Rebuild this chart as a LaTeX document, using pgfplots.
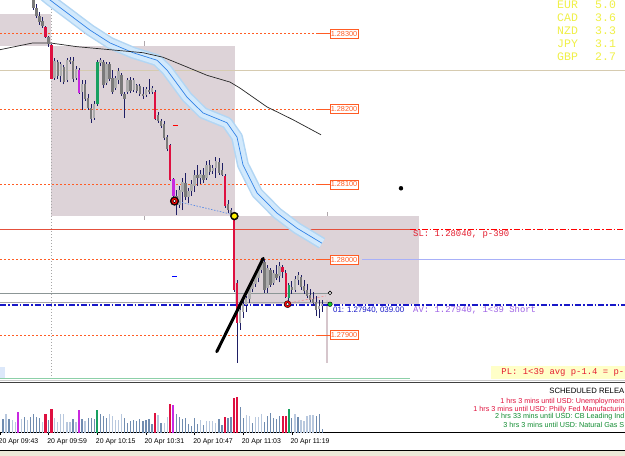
\documentclass[border=0pt]{standalone}
\usepackage{fontspec}
\setmainfont{Liberation Sans}
\newfontfamily\monofont{Liberation Mono}
\usepackage{pgfplots}
\usepackage{pgfplotstable}
\pgfplotsset{compat=1.18}

\definecolor{boxc}{RGB}{221,211,216}
\definecolor{lvl}{RGB}{255,92,36}
\colorlet{cbu}{black!32}
\colorlet{cbe}{black!52}
\definecolor{crd}{RGB}{222,16,64}
\definecolor{cmg}{RGB}{200,40,224}
\definecolor{cgr}{RGB}{24,160,96}
\definecolor{wickc}{RGB}{30,30,100}
\definecolor{bandout}{RGB}{178,214,244}
\definecolor{bandin}{RGB}{210,233,252}
\definecolor{macen}{RGB}{50,130,230}
\definecolor{tanc}{RGB}{214,203,176}
\definecolor{slc}{RGB}{228,30,48}
\definecolor{slline}{RGB}{228,80,60}
\definecolor{ordc}{RGB}{24,24,200}
\definecolor{avc}{RGB}{160,100,230}
\definecolor{yelc}{RGB}{240,240,70}
\definecolor{voldark}{RGB}{112,140,176}
\definecolor{vollight}{RGB}{184,200,222}
\definecolor{beige}{RGB}{236,233,216}
\definecolor{grayln}{RGB}{140,150,150}
\definecolor{lblue}{RGB}{168,176,248}
\definecolor{conn}{RGB}{90,140,230}
\definecolor{salm}{RGB}{240,150,150}
\definecolor{sepc}{RGB}{176,168,172}
\definecolor{pinkv}{RGB}{214,198,204}
\definecolor{greenln}{RGB}{140,208,168}
\definecolor{greendot}{RGB}{20,200,40}
\definecolor{plbox}{RGB}{255,255,200}
\definecolor{newsred}{RGB}{224,16,60}
\definecolor{newsgreen}{RGB}{16,140,48}
\definecolor{tinyblue}{RGB}{220,232,250}

\pgfplotstableread{
m o h l c k
11 1.28356 1.28358 1.28332 1.28334 be
12 1.28334 1.28340 1.28321 1.28324 be
13 1.28324 1.28329 1.28312 1.28316 be
14 1.28317 1.28322 1.28308 1.28310 be
15 1.28309 1.28310 1.28295 1.28296 rd
16 1.28296 1.28297 1.28283 1.28287 be
17 1.28285 1.28287 1.28240 1.28240 rd
18 1.28241 1.28268 1.28239 1.28264 bu
19 1.28263 1.28265 1.28240 1.28244 be
20 1.28244 1.28263 1.28236 1.28260 bu
21 1.28256 1.28259 1.28233 1.28236 be
22 1.28239 1.28268 1.28236 1.28265 bu
23 1.28265 1.28269 1.28260 1.28263 be
24 1.28264 1.28269 1.28236 1.28240 be
25 1.28241 1.28257 1.28239 1.28253 bu
26 1.28252 1.28255 1.28220 1.28221 mg
27 1.28223 1.28239 1.28199 1.28233 bu
28 1.28233 1.28239 1.28211 1.28214 be
29 1.28215 1.28220 1.28199 1.28202 be
30 1.28202 1.28207 1.28182 1.28187 be
31 1.28188 1.28211 1.28186 1.28207 bu
32 1.28207 1.28265 1.28204 1.28263 gr
33 1.28261 1.28268 1.28257 1.28265 bu
34 1.28263 1.28265 1.28228 1.28232 be
35 1.28235 1.28263 1.28232 1.28260 bu
36 1.28260 1.28263 1.28237 1.28240 be
37 1.28241 1.28252 1.28220 1.28223 be
38 1.28228 1.28244 1.28225 1.28241 bu
39 1.28239 1.28255 1.28233 1.28251 bu
40 1.28245 1.28248 1.28218 1.28220 be
41 1.28220 1.28223 1.28188 1.28214 be
42 1.28223 1.28241 1.28220 1.28239 bu
43 1.28239 1.28243 1.28221 1.28224 be
44 1.28225 1.28241 1.28223 1.28239 bu
45 1.28232 1.28233 1.28221 1.28224 be
46 1.28231 1.28233 1.28218 1.28220 be
47 1.28220 1.28229 1.28214 1.28218 be
48 1.28219 1.28229 1.28216 1.28227 bu
49 1.28225 1.28240 1.28220 1.28223 be
50 1.28223 1.28231 1.28220 1.28228 bu
51 1.28223 1.28225 1.28186 1.28187 rd
52 1.28192 1.28196 1.28182 1.28184 be
53 1.28184 1.28187 1.28175 1.28178 be
54 1.28180 1.28184 1.28159 1.28162 be
55 1.28163 1.28166 1.28144 1.28147 be
56 1.28152 1.28154 1.28105 1.28106 rd
57 1.28107 1.28109 1.28083 1.28085 mg
58 1.28085 1.28093 1.28059 1.28073 be
59 1.28073 1.28098 1.28069 1.28093 bu
60 1.28090 1.28109 1.28066 1.28103 bu
61 1.28102 1.28115 1.28079 1.28083 be
62 1.28083 1.28095 1.28075 1.28091 bu
63 1.28091 1.28106 1.28085 1.28101 bu
64 1.28098 1.28119 1.28090 1.28113 bu
65 1.28113 1.28126 1.28098 1.28109 be
66 1.28109 1.28119 1.28101 1.28114 bu
67 1.28113 1.28122 1.28102 1.28106 be
68 1.28109 1.28131 1.28106 1.28126 bu
69 1.28126 1.28133 1.28113 1.28117 be
70 1.28118 1.28126 1.28114 1.28122 bu
71 1.28122 1.28137 1.28109 1.28131 bu
72 1.28130 1.28135 1.28113 1.28115 be
73 1.28119 1.28129 1.28111 1.28113 be
74 1.28111 1.28114 1.28069 1.28071 rd
75 1.28074 1.28079 1.28062 1.28066 be
76 1.28066 1.28069 1.28055 1.28059 be
77 1.28058 1.28059 1.27957 1.27960 rd
78 1.27969 1.27973 1.27863 1.27916 rd
79 1.27916 1.27940 1.27907 1.27933 bu
80 1.27931 1.27947 1.27923 1.27941 bu
81 1.27940 1.27952 1.27931 1.27949 bu
82 1.27948 1.27967 1.27943 1.27963 bu
83 1.27961 1.27973 1.27957 1.27969 bu
84 1.27968 1.27984 1.27964 1.27980 bu
85 1.27976 1.27993 1.27970 1.27989 bu
86 1.27986 1.28002 1.27982 1.27998 bu
87 1.27997 1.28001 1.27956 1.27960 be
88 1.27963 1.27993 1.27956 1.27989 bu
89 1.27986 1.27989 1.27964 1.27967 be
90 1.27969 1.27986 1.27967 1.27982 bu
91 1.27981 1.27993 1.27973 1.27976 be
92 1.27978 1.27997 1.27970 1.27992 bu
93 1.27990 1.27993 1.27976 1.27984 rd
94 1.27982 1.27986 1.27949 1.27951 rd
95 1.27949 1.27969 1.27939 1.27967 gr
96 1.27964 1.27972 1.27955 1.27960 be
97 1.27960 1.27978 1.27957 1.27974 bu
98 1.27973 1.27984 1.27967 1.27980 bu
99 1.27977 1.27980 1.27960 1.27964 be
100 1.27965 1.27973 1.27955 1.27959 be
101 1.27960 1.27968 1.27949 1.27952 be
102 1.27953 1.27961 1.27944 1.27947 be
103 1.27948 1.27957 1.27939 1.27943 be
104 1.27944 1.27952 1.27925 1.27933 be
105 1.27935 1.27947 1.27923 1.27939 bu
106 1.27939 1.27947 1.27931 1.27941 bu
}\candles

\pgfplotstableread{
m p
0 1.28279
10.86 1.28288
16.45 1.28288
25.33 1.28283
36.18 1.28279
47.04 1.28275
53.62 1.28269
61.51 1.28256
68.09 1.28245
75.66 1.28236
78.95 1.28228
87.83 1.28203
96.38 1.28186
105.59 1.28166
}\maslow

\pgfplotstableread{
m p
13.16 1.28356
16.45 1.28345
22.04 1.28328
29.61 1.28305
36.18 1.28288
43.75 1.28275
51.64 1.28265
54.93 1.28252
61.51 1.28216
66.78 1.28195
74.67 1.28182
77.96 1.28163
79.93 1.28126
84.54 1.28089
91.12 1.28062
97.70 1.28042
105.92 1.28022
}\mafast

\pgfplotstableread{
m v k
1 13 0
2 18 1
3 13 0
4 12 1
5 10 1
6 20 3
7 13 1
8 15 0
9 12 1
10 15 0
11 18 0
12 15 0
13 14 0
14 10 1
15 18 2
16 12 0
17 23 2
18 14 1
19 10 1
20 18 1
21 18 1
22 10 1
23 10 1
24 13 0
25 10 1
26 22 3
27 13 0
28 11 1
29 14 0
30 14 0
31 13 0
32 22 4
33 18 0
34 16 0
35 14 0
36 18 1
37 16 1
38 12 1
39 12 1
40 18 1
41 14 0
42 9 0
43 11 0
44 12 0
45 11 0
46 13 0
47 11 0
48 12 0
49 13 0
50 8 0
51 19 2
52 17 1
53 9 0
54 9 1
55 15 1
56 28 2
57 27 3
58 18 0
59 15 0
60 13 0
61 14 0
62 8 0
63 6 0
64 14 0
65 8 0
66 12 1
67 7 0
68 11 1
69 11 1
70 11 1
71 9 1
72 13 0
73 7 0
74 15 2
75 14 0
76 15 0
77 34 2
78 35 2
79 25 0
80 14 0
81 17 1
82 16 1
83 9 0
84 15 1
85 15 1
86 18 1
87 10 0
88 16 0
89 19 0
90 14 0
91 13 0
92 16 0
93 16 2
94 16 2
95 23 4
96 14 0
97 18 1
98 15 0
99 12 1
100 11 1
101 16 1
102 17 1
103 17 1
104 16 0
105 18 0
106 4 0
}\vols

\newcommand\lvlline[2]{%
  \addplot[lvl, dash pattern=on 2pt off 2pt, line width=0.8pt] coordinates {(0,#1) (104.6,#1)};
  \addplot[lvl, line width=0.8pt] coordinates {(104.6,#1) (108.4,#1)};
  \node[anchor=west, draw=lvl, fill=white, text=lvl, line width=0.6pt,
        font=\fontsize{7.3}{7.3}\selectfont, inner xsep=1pt, inner ysep=1.6pt,
        text height=5.3pt, text depth=0.3pt] at (axis cs:108.4,#1) {#2};
}

\begin{document}%
\pgfplotstablegetrowsof{\candles}%
\pgfmathtruncatemacro{\ncand}{\pgfplotsretval-1}%
\begin{tikzpicture}
\path[use as bounding box] (0pt,0pt) rectangle (625pt,456pt);
\clip (0pt,0pt) rectangle (625pt,456pt);
\fill[white] (0pt,0pt) rectangle (625pt,456pt);

%================ price panel
\begin{axis}[at={(0pt,77pt)}, anchor=south west, scale only axis,
  width=625pt, height=379pt, xmin=0, xmax=205.592,
  ymin=1.278417, ymax=1.28345, hide axis, clip=true]
% shaded boxes
\addplot[fill=boxc, draw=none] coordinates {(0,1.28326) (16.78,1.28326) (16.78,1.28284) (0,1.28284)} --cycle;
\addplot[fill=boxc, draw=none] coordinates {(16.78,1.28284) (77.3,1.28284) (77.3,1.28058) (16.78,1.28058)} --cycle;
\addplot[fill=boxc, draw=none] coordinates {(77.3,1.28058) (137.83,1.28058) (137.83,1.27941) (77.3,1.27941)} --cycle;
% separators
\addplot[sepc, line width=0.8pt] coordinates {(47.37,1.28290) (47.37,1.28284)};
\addplot[sepc, line width=0.8pt] coordinates {(47.37,1.28058) (47.37,1.28053)};
\addplot[sepc, line width=0.8pt] coordinates {(107.57,1.28063) (107.57,1.28058)};
\addplot[pinkv, line width=1.6pt] coordinates {(107.57,1.27947) (107.57,1.27863)};
\addplot[black!35, dash pattern=on 1pt off 2pt, line width=0.6pt] coordinates {(16.78,1.278417) (16.78,1.28345)};
% horizontal lines
\addplot[tanc, line width=0.9pt] coordinates {(0,1.28251) (205.6,1.28251)};
\lvlline{1.28300}{1.28300}
\lvlline{1.28200}{1.28200}
\lvlline{1.28100}{1.28100}
\lvlline{1.28000}{1.28000}
\lvlline{1.27900}{1.27900}
\addplot[lblue, line width=0.8pt] coordinates {(119.1,1.28) (205.6,1.28)};
\addplot[slline, line width=1pt] coordinates {(0,1.28040) (134.87,1.28040)};
\addplot[red, line width=1pt, dash pattern=on 6pt off 2pt on 1.5pt off 2pt] coordinates {(134.87,1.28040) (205.6,1.28040)};
\addplot[grayln, line width=1.3pt] coordinates {(0,1.27955) (108.55,1.27955)};
\addplot[black!35, line width=0.6pt] coordinates {(0,1.27943) (108.55,1.27943)};
\addplot[ordc, line width=1.1pt, dash pattern=on 6pt off 2pt on 1.5pt off 2pt] coordinates {(0,1.27940) (205.6,1.27940)};
% moving averages
\addplot[bandout, line width=12pt, line join=round] table[x=m,y=p]{\mafast};
\addplot[bandin, line width=9pt, line join=round] table[x=m,y=p]{\mafast};
\addplot[macen, line width=0.7pt, line join=round] table[x=m,y=p]{\mafast};
\addplot[black!85, line width=0.7pt, line join=round] table[x=m,y=p]{\maslow};
% candles
\pgfplotsforeachungrouped \i in {0,...,\ncand}{%
  \pgfplotstablegetelem{\i}{m}\of\candles\let\cM\pgfplotsretval
  \pgfplotstablegetelem{\i}{o}\of\candles\let\cO\pgfplotsretval
  \pgfplotstablegetelem{\i}{h}\of\candles\let\cH\pgfplotsretval
  \pgfplotstablegetelem{\i}{l}\of\candles\let\cL\pgfplotsretval
  \pgfplotstablegetelem{\i}{c}\of\candles\let\cC\pgfplotsretval
  \pgfplotstablegetelem{\i}{k}\of\candles\let\cK\pgfplotsretval
  \edef\tmp{\noexpand\draw[wickc, line width=0.7pt] (axis cs:\cM,\cL) -- (axis cs:\cM,\cH);
    \noexpand\draw[c\cK, line width=2.5pt] (axis cs:\cM,\cO) -- (axis cs:\cM,\cC);}%
  \tmp
}
% small dashes
\addplot[blue, line width=1pt] coordinates {(56.6,1.27978) (58.2,1.27978)};
\addplot[red, line width=1.2pt] coordinates {(56.9,1.28178) (58.6,1.28178)};
% connectors
\addplot[conn, line width=0.7pt, dash pattern=on 1.5pt off 1.5pt] coordinates {(57.9,1.28078) (76.6,1.28060)};
\addplot[salm, line width=0.7pt, dash pattern=on 2pt off 2pt] coordinates {(95.4,1.27943) (107.2,1.27952)};
% trend line
\addplot[black, line width=3pt, line cap=round] coordinates {(71.3,1.27878) (86.6,1.28002)};
% markers
\addplot[only marks, mark=*, mark size=4.3pt, mark options={fill=black, draw=none}] coordinates {(57.4,1.28078)};
\addplot[only marks, mark=*, mark size=3.5pt, mark options={fill=red, draw=none}] coordinates {(57.4,1.28078) (94.6,1.27941)};
\addplot[only marks, mark=*, mark size=1.7pt, mark options={fill=white, draw=none}] coordinates {(57.4,1.28078) (94.6,1.27941)};
\addplot[only marks, mark=*, mark size=4pt, mark options={fill=black, draw=none}] coordinates {(77.1,1.28058)};
\addplot[only marks, mark=*, mark size=2.9pt, mark options={fill=yellow, draw=none}] coordinates {(77.1,1.28058)};
\addplot[only marks, mark=*, mark size=2pt, mark options={fill=black, draw=none}] coordinates {(131.9,1.28095)};
\addplot[only marks, mark=*, mark size=2.3pt, mark options={fill=greendot, draw=none}] coordinates {(108.55,1.27941)};
\addplot[only marks, mark=*, mark size=1.8pt, mark options={fill=white, draw=black, line width=0.6pt}] coordinates {(108.55,1.27956)};
% texts
\node[anchor=west, text=slc, font=\monofont\fontsize{8.9}{9}\selectfont, inner sep=0pt] at (axis cs:135.86,1.28033) {SL: 1.28040, p-390};
\node[anchor=west, text=ordc, font=\fontsize{7.9}{9}\selectfont, inner sep=0pt] at (axis cs:109.54,1.27933) {01: 1.27940, 039.00};
\node[anchor=west, text=avc, font=\monofont\fontsize{8.9}{9}\selectfont, inner sep=0pt] at (axis cs:135.86,1.27933) {AV: 1.27940, 1<39 Short};
\end{axis}

%================ volume panel
\begin{axis}[at={(0pt,23.5pt)}, anchor=south west, scale only axis,
  width=625pt, height=49.5pt, xmin=0, xmax=205.592, ymin=0, ymax=49.5,
  axis x line*=bottom, axis y line=none, x axis line style={-, black, line width=0.8pt},
  xtick={0,16,32,48,64,80,96},
  xticklabels={20 Apr 09:43,20 Apr 09:59,20 Apr 10:15,20 Apr 10:31,20 Apr 10:47,20 Apr 11:03,20 Apr 11:19},
  xticklabel style={font=\fontsize{6.9}{7}\selectfont, anchor=north west, inner sep=0pt, xshift=-1.5pt, yshift=-3.5pt},
  major tick length=2.5pt, tick align=outside, xtick style={black, line width=0.6pt},
  ytick=\empty, clip=true]
\addplot[ycomb, voldark, line width=1.3pt, restrict expr to domain={\thisrow{k}}{0:0}] table[x=m,y=v]{\vols};
\addplot[ycomb, vollight, line width=1.3pt, restrict expr to domain={\thisrow{k}}{1:1}] table[x=m,y=v]{\vols};
\addplot[ycomb, crd, line width=2.4pt, restrict expr to domain={\thisrow{k}}{2:2}] table[x=m,y=v]{\vols};
\addplot[ycomb, cmg, line width=2pt, restrict expr to domain={\thisrow{k}}{3:3}] table[x=m,y=v]{\vols};
\addplot[ycomb, cgr, line width=2.2pt, restrict expr to domain={\thisrow{k}}{4:4}] table[x=m,y=v]{\vols};
\end{axis}

%================ overlays in pixel coordinates
\begin{scope}[shift={(0pt,456pt)}, x=1pt, y=-1pt]
  \fill[tinyblue] (0,367) rectangle (5,378);
  \draw[greenln, line width=1pt] (0,379) -- (410,379);
  \draw[black!20, line width=1pt] (0,380.5) -- (625,380.5);
  \draw[black!75, line width=1.2pt] (0,382.2) -- (625,382.2);
  \draw[black, line width=0.9pt] (0,450.5) -- (625,450.5);
  \fill[beige] (0,451) rectangle (625,457);
  \fill[plbox] (491,366) rectangle (626,379);
  \node[anchor=east, text=slc, font=\monofont\fontsize{8.9}{9}\selectfont, inner sep=0pt] at (624.5,372.5) {PL: 1<39 avg p-1.4 = p-};
  % currency strength
  \foreach \cur/\val/\yy in {EUR/5.0/5, CAD/3.6/18, NZD/3.3/31, JPY/3.1/44, GBP/2.7/57}{
    \node[anchor=west, text=yelc, font=\monofont\fontsize{11.5}{12}\selectfont, inner sep=0pt] at (557,\yy) {\cur};
    \node[anchor=west, text=yelc, font=\monofont\fontsize{11.5}{12}\selectfont, inner sep=0pt] at (595,\yy) {\val};
  }
  % scheduled releases (cut at the right edge as in the reference)
  \node[anchor=east, inner sep=0pt, font=\fontsize{7.7}{8}\selectfont] at (624.5,391) {SCHEDULED RELEA};
  \node[anchor=east, inner sep=0pt, text=newsred, font=\fontsize{7.2}{8}\selectfont] at (624.5,402) {1 hrs 3 mins until USD: Unemployment};
  \node[anchor=east, inner sep=0pt, text=newsred, font=\fontsize{7.2}{8}\selectfont] at (624.5,409.5) {1 hrs 3 mins until USD: Philly Fed Manufacturin};
  \node[anchor=east, inner sep=0pt, text=newsgreen, font=\fontsize{7.2}{8}\selectfont] at (624.5,417) {2 hrs 33 mins until USD: CB Leading Ind};
  \node[anchor=east, inner sep=0pt, text=newsgreen, font=\fontsize{7.2}{8}\selectfont] at (624.5,425) {3 hrs 3 mins until USD: Natural Gas S};
\end{scope}
\end{tikzpicture}
\end{document}
